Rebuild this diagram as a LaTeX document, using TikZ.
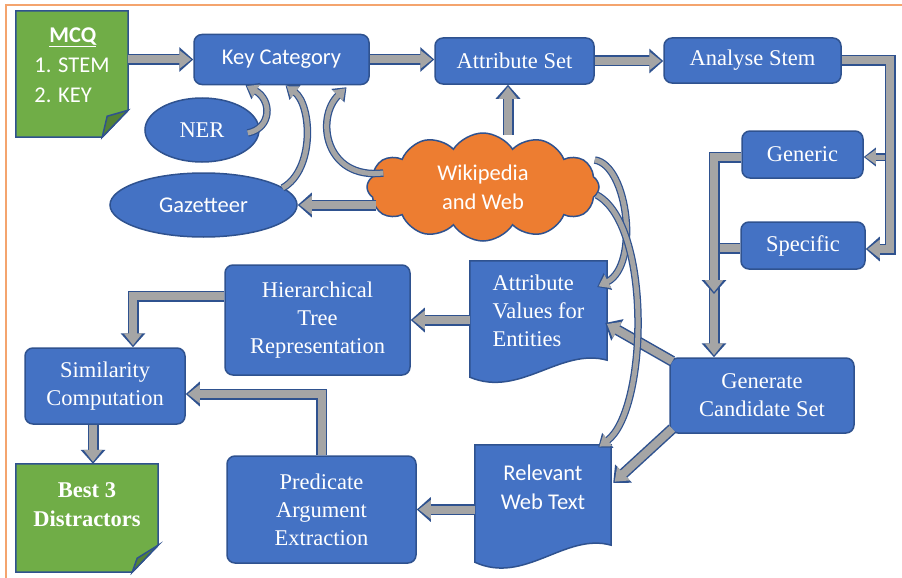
\documentclass[tikz,border=0pt]{standalone}
\usepackage{fontspec}
\setmainfont{Liberation Serif}
\newfontfamily\calfont{Carlito}
\usetikzlibrary{arrows.meta,shapes.geometric,shapes.symbols,calc}
\pgfdeclarelayer{background}
\pgfsetlayers{background,main}
\definecolor{boxblue}{HTML}{4472C4}
\definecolor{edgeblue}{HTML}{2F528F}
\definecolor{notegreen}{HTML}{70AD47}
\definecolor{foldgreen}{HTML}{548235}
\definecolor{cloudorange}{HTML}{ED7D31}
\definecolor{arrowgray}{HTML}{A5A5A5}
\definecolor{frameorange}{HTML}{F4A46E}

\begin{document}
\begin{tikzpicture}[x=1pt, y=-1pt, font=\fontsize{22.5}{28}\selectfont]
\tikzset{mybox/.style={draw=edgeblue, line width=1.5pt, fill=boxblue, rounded corners=8pt, text=white, align=center, inner sep=0pt}}
\tikzset{myellipse/.style={ellipse, draw=edgeblue, line width=1.5pt, fill=boxblue, text=white, inner sep=0pt}}
\tikzset{mydoc/.style={text=white, inner sep=0pt}}
\tikzset{cal/.style={font=\calfont\fontsize{22.5}{29}\selectfont}}
\tikzset{docshape/.style={draw=edgeblue, line width=1.5pt, fill=boxblue}}
\tikzset{noteshape/.style={draw=edgeblue, line width=1.5pt, fill=notegreen}}
\tikzset{foldshape/.style={draw=edgeblue, line width=1.5pt, fill=foldgreen}}
\tikzset{flow/.style={preaction={draw=edgeblue, line width=11pt, shorten >=0pt, -{Triangle[length=14pt,width=24pt]}}, draw=arrowgray, line width=8pt, shorten >=2pt, -{Triangle[length=12pt,width=18pt]}}}
\tikzset{cflow/.style={preaction={draw=edgeblue, line width=7.5pt, shorten >=0pt, -{Triangle[length=12pt,width=18pt]}}, draw=arrowgray, line width=5pt, shorten >=1.5pt, -{Triangle[length=10.5pt,width=14pt]}}}
\useasboundingbox (0,0) rectangle (902,578);
\draw[frameorange, line width=1.2pt] (6,578) -- (6,5) -- (902,5);

\node[mydoc, minimum width=112pt, minimum height=108pt, align=left, font=\calfont\fontsize{22.5}{30}\selectfont] (mcq) at (72,65) {\hspace*{15pt}\textbf{\underline{MCQ}}\\1. STEM\\2. KEY};
\node[mybox, cal, minimum width=175pt, minimum height=50pt] (key) at (281.5,59.5) {Key Category};
\node[mybox, minimum width=159pt, minimum height=46pt] (attr) at (514.5,61) {Attribute Set};
\node[mybox, minimum width=177pt, minimum height=45pt] (stem) at (752.5,60.5) {Analyse Stem};
\node[mybox, minimum width=121pt, minimum height=47pt] (gen) at (802.5,154.5) {Generic};
\node[mybox, minimum width=124pt, minimum height=47pt] (spec) at (803,245.5) {Specific};
\node[myellipse, minimum width=114pt, minimum height=64pt] (ner) at (202,130) {NER};
\node[myellipse, cal, minimum width=187pt, minimum height=64pt] (gaz) at (203.5,205) {Gazetteer};
\node[cloud, cloud puffs=12, cloud puff arc=115, cloud ignores aspect, draw=edgeblue, line width=1.5pt, fill=cloudorange, text=white, cal, align=center, inner sep=0pt, minimum width=232pt, minimum height=108pt] (wiki) at (483,187) {Wikipedia\\and Web};
\node[mybox, minimum width=185pt, minimum height=110pt] (hier) at (317.5,320) {Hierarchical\\Tree\\Representation};
\node[mydoc, minimum width=137pt, minimum height=99pt, align=left] (av) at (538.5,310.5) {Attribute\\Values for\\Entities};
\node[mydoc, cal, minimum width=136pt, minimum height=85pt, align=center] (rwt) at (543,487.5) {Relevant\\Web Text};
\node[mybox, minimum width=184pt, minimum height=75pt] (gc) at (762,395.5) {Generate\\Candidate Set};
\node[mybox, minimum width=160pt, minimum height=76pt] (sim) at (105,386) {Similarity\\Computation};
\node[mydoc, minimum width=142pt, minimum height=82pt, align=center, font=\bfseries\fontsize{22.5}{29}\selectfont] (best) at (87,505) {Best 3\\Distractors};
\node[mybox, minimum width=189pt, minimum height=107pt] (pred) at (321.5,509.5) {Predicate\\Argument\\Extraction};

\begin{pgfonlayer}{background}
\filldraw[noteshape] (mcq.north west) -- (mcq.north east) -- ($(mcq.south east)+(0,-9)$) -- ($(mcq.south east)+(-26,18)$) -- ($(mcq.south west)+(0,18)$) -- cycle;
\filldraw[foldshape] ($(mcq.south east)+(0,-9)$) -- ($(mcq.south east)+(-26,18)$) -- ($(mcq.south east)+(-21,-3)$) -- cycle;
\filldraw[noteshape] (best.north west) -- (best.north east) -- ($(best.south east)+(0,-1)$) -- ($(best.south east)+(-26,26)$) -- ($(best.south west)+(0,26)$) -- cycle;
\filldraw[foldshape] ($(best.south east)+(0,-1)$) -- ($(best.south east)+(-26,26)$) -- ($(best.south east)+(-21,12)$) -- cycle;
\filldraw[docshape] (av.north west) -- (av.north east) -- (av.south east) .. controls ($(av.south east)+(-47,-13)$) and ($(av.south west)+(50,38)$) .. ($(av.south west)+(0,17)$) -- cycle;
\filldraw[docshape] (rwt.north west) -- (rwt.north east) -- ($(rwt.south east)+(0,15)$) .. controls ($(rwt.south east)+(-46,2)$) and ($(rwt.south west)+(50,55)$) .. ($(rwt.south west)+(0,32)$) -- cycle;
\end{pgfonlayer}

\coordinate (rtop) at (890,60.5);
\coordinate (rbot) at (890,249);
\coordinate (rgen) at (885,157);
\coordinate (lgen) at (714,157);
\coordinate (lspec) at (714,248);
\coordinate (lmid) at (714,294);

\draw[flow] (key.west -| mcq.east) -- (key.west);
\draw[flow] (key.east) -- (key.east -| attr.west);
\draw[flow] (attr.east) -- (attr.east -| stem.west);
\draw[flow] (stem.east) -- (rtop) -- (rbot) -- (rbot -| spec.east);
\draw[cflow] (rgen) -- (rgen -| gen.east);
\draw[flow] (lspec -| spec.west) -- (lspec) -- (lspec |- gc.north);
\draw[flow] (lgen -| gen.west) -- (lgen) -- (lmid);
\draw[flow] ([xshift=25,yshift=-3]wiki.north) -- ([xshift=-6.5]attr.south);
\draw[flow] ([xshift=10,yshift=-18]wiki.west) -- (gaz.east);
\draw[flow] (hier.east -| av.west) -- (hier.east);
\draw[flow] ([yshift=24]hier.west) -| ([xshift=28]sim.north);
\draw[flow] (pred.north) |- ([yshift=-8]sim.east);
\draw[flow] ([xshift=-12]sim.south) -- ([xshift=6]best.north);
\draw[flow] (pred.east -| rwt.west) -- (pred.east);
\draw[flow] ([xshift=3,yshift=-4]gc.north west) -- ([xshift=-2,yshift=-12.5]av.east);
\draw[flow] ([xshift=3,yshift=5]gc.south west) -- ([xshift=2,yshift=4.5]rwt.east);

\draw[cflow] ([xshift=-12,yshift=-3]ner.east) .. controls (272,128) and (272,100) .. ([xshift=-36]key.south);
\draw[cflow] ([xshift=79,yshift=17]gaz.center) .. controls (315,170) and (312,105) .. ([xshift=4]key.south);
\draw[cflow] ([xshift=17,yshift=14]wiki.west) .. controls (325,180) and (315,118) .. ([xshift=65,yshift=-2]key.south);
\draw[cflow] ([xshift=-5,yshift=27]wiki.east) .. controls (628,165) and (640,265) .. ([xshift=-10,yshift=23.5]av.east);
\draw[cflow] ([xshift=-3,yshift=-8]wiki.east) .. controls (652,225) and (648,410) .. ([xshift=-13,yshift=40]rwt.east);
\end{tikzpicture}
\end{document}
